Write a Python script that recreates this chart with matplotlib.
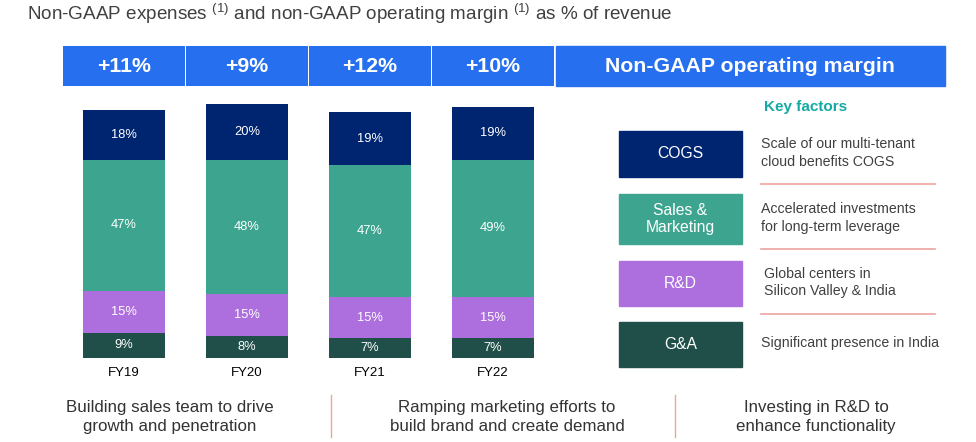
import matplotlib.pyplot as plt
from matplotlib.patches import Rectangle

plt.rcParams['font.family'] = ['Liberation Sans', 'DejaVu Sans']
plt.rcParams['mathtext.fontset'] = 'custom'
plt.rcParams['mathtext.rm'] = 'Liberation Sans'

# data
years = ['FY19', 'FY20', 'FY21', 'FY22']
ga = [9, 8, 7, 7]
rnd = [15, 15, 15, 15]
sales_mkt = [47, 48, 47, 49]
cogs = [18, 20, 19, 19]
margin = ['+11%', '+9%', '+12%', '+10%']

series_names = ['G&A', 'R&D', 'Sales & Marketing', 'COGS']
colors = ['#1F4F48', '#AE6FDE', '#3DA58F', '#002570']
legend_labels = ['COGS', 'Sales &\nMarketing', 'R&D', 'G&A']
legend_colors = ['#002570', '#3DA58F', '#AE6FDE', '#1F4F48']
key_factors = ['Scale of our multi-tenant\ncloud benefits COGS',
               'Accelerated investments\nfor long-term leverage',
               'Global centers in\nSilicon Valley & India',
               'Significant presence in India']
bottom_notes = ['Building sales team to drive\ngrowth and penetration',
                'Ramping marketing efforts to\nbuild brand and create demand',
                'Investing in R&D to\nenhance functionality']

W, H = 976, 442
blue = '#2670F0'
fig = plt.figure(figsize=(W / 100, H / 100), dpi=100)

# overlay axes in pixel coordinates for the slide decorations
ov = fig.add_axes([0, 0, 1, 1])
ov.set_xlim(0, W)
ov.set_ylim(H, 0)
ov.axis('off')

ov.text(27, 14, r'Non-GAAP expenses $^{\rm (1)}$ and non-GAAP operating margin $^{\rm (1)}$ as % of revenue',
        fontsize=13.6, color='#404040', va='center', ha='left')

# last header cell
ov.add_patch(Rectangle((556, 46), 389, 40, color=blue))
ov.text(750, 66, 'Non-GAAP operating margin', color='white', fontsize=15.3,
        fontweight='bold', ha='center', va='center')

ov.text(806, 107, 'Key factors', color='#14A9A5', fontsize=11,
        fontweight='bold', ha='center', va='center')

boxes = [(131, 46), (194, 50), (261, 45), (322, 45)]
text_x = [761, 761, 764, 761]
for (y0, h), lab, c, kf, tx in zip(boxes, legend_labels, legend_colors, key_factors, text_x):
    ov.add_patch(Rectangle((619, y0), 123, h, color=c))
    ov.text(680.5, y0 + h / 2, lab, color='white', fontsize=11.3,
            ha='center', va='center', linespacing=1.15)
    ov.text(tx, y0 + h / 2 - 1, kf, color='#404040', fontsize=10.2,
            ha='left', va='center', linespacing=1.3)
for y in [184, 249, 314]:
    ov.plot([761, 935], [y, y], color='#EBA4A0', lw=1.2)

for x in [331, 675]:
    ov.plot([x, x], [395, 437], color='#EBA4A0', lw=1)
for x, note in zip([170, 507, 816], bottom_notes):
    ov.text(x, 417, note, color='#333333', fontsize=12.2, ha='center',
            va='center', linespacing=1.3)

# bar axes: categories 123 px apart, 2.79 px per percent, baseline at y=358
px_per = 2.79
ymax = 115
ax = fig.add_axes([62.5 / W, (H - 358) / H, 492 / W, ymax * px_per / H])
ax.patch.set_visible(False)
ax.set_xlim(-0.5, 3.5)
ax.set_ylim(0, ymax)
ax.axis('off')

x = list(range(len(years)))
bottom = [0] * len(years)
for vals, c in zip([ga, rnd, sales_mkt, cogs], colors):
    ax.bar(x, vals, width=0.667, bottom=bottom, color=c)
    for i, v in enumerate(vals):
        ax.text(i, bottom[i] + v / 2, f'{v}%', color='white', fontsize=9.3,
                ha='center', va='center')
    bottom = [b + v for b, v in zip(bottom, vals)]

for i, yr in enumerate(years):
    ax.text(i, -5.4, yr, color='black', fontsize=9.5, ha='center', va='center')

# header cells with margin growth
hb = (358 - 86) / px_per
hh = 40 / px_per
ax.bar(x, [hh] * len(x), width=0.984, bottom=hb, color=blue, clip_on=False)
for i, m in enumerate(margin):
    ax.text(i, hb + hh / 2, m, color='white', fontsize=15.3, fontweight='bold',
            ha='center', va='center')

fig.savefig('out.png', dpi=100)
